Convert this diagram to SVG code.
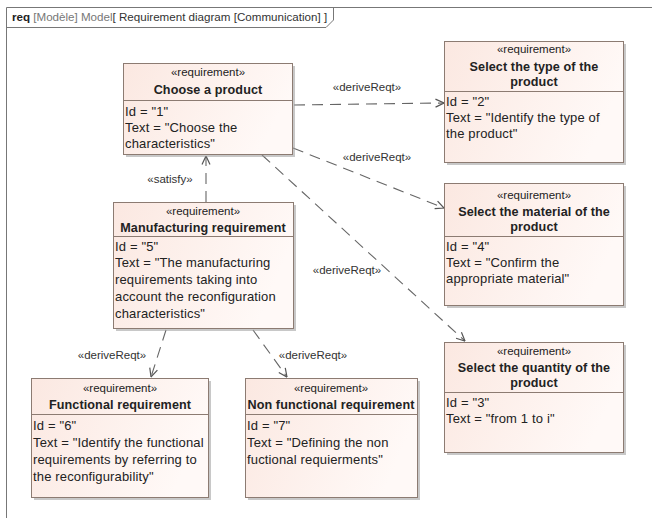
<svg xmlns="http://www.w3.org/2000/svg" width="652" height="518" viewBox="0 0 652 518">
<defs>
<linearGradient id="g" x1="0" y1="0" x2="1" y2="0.3">
<stop offset="0" stop-color="#fbe8e1"/>
<stop offset="1" stop-color="#fff9f7"/>
</linearGradient>
<marker id="oa" viewBox="0 0 10 10" refX="9.5" refY="5" markerWidth="10" markerHeight="10" markerUnits="userSpaceOnUse" orient="auto">
<path d="M1,1 L9.5,5 L1,9" fill="none" stroke="#555" stroke-width="1.2"/>
</marker>
</defs>
<style>
text{font-family:"Liberation Sans",Arial,sans-serif;fill:#222}
.st{font-size:11.5px;text-anchor:middle}
.nm{font-size:12.6px;font-weight:bold;text-anchor:middle;letter-spacing:0.1px}
.bd{font-size:13px;letter-spacing:0.15px}
.lb{font-size:11.5px;text-anchor:middle;fill:#333}
.box{fill:url(#g);stroke:#8c7b72;stroke-width:1}
.sh{fill:#9a9a9a;opacity:.55}
.dv{stroke:#8c7b72;stroke-width:1}
.cn{fill:none;stroke:#666;stroke-width:1.1;stroke-dasharray:11 7;marker-end:url(#oa)}
</style>
<rect width="652" height="518" fill="#fff"/>
<g id="frame">
<path d="M6.5,518 V7.5 H652" fill="none" stroke="#777" stroke-width="1"/>
<path d="M6.5,27.5 H326 L333.5,20 V7.5" fill="none" stroke="#777" stroke-width="1"/>
<text x="12" y="21" style="font-size:11.6px"><tspan font-weight="bold" fill="#222">req</tspan><tspan fill="#777"> [Modèle] Model</tspan><tspan fill="#333">[ Requirement diagram [Communication] ]</tspan></text>
</g>
<g id="connectors">
<line class="cn" x1="294" y1="105" x2="444" y2="103"/>
<line class="cn" x1="293" y1="148" x2="444" y2="208"/>
<line class="cn" x1="262" y1="155" x2="465" y2="341"/>
<line class="cn" x1="206" y1="202" x2="206" y2="156"/>
<line class="cn" x1="166" y1="330" x2="151" y2="377"/>
<line class="cn" x1="253" y1="330" x2="287" y2="377"/>
<text class="lb" x="367" y="91">«deriveReqt»</text>
<text class="lb" x="377" y="161">«deriveReqt»</text>
<text class="lb" x="347" y="274">«deriveReqt»</text>
<text class="lb" x="170" y="183">«satisfy»</text>
<text class="lb" x="112" y="359">«deriveReqt»</text>
<text class="lb" x="313" y="359">«deriveReqt»</text>
</g>
<g id="choose">
<rect class="sh" x="126" y="66" width="169" height="91"/>
<rect class="box" x="123.5" y="63.5" width="169" height="91"/>
<line class="dv" x1="123.5" y1="100.5" x2="292.5" y2="100.5"/>
<text class="st" x="208" y="76">«requirement»</text>
<text class="nm" x="208" y="94">Choose a product</text>
<text class="bd" x="125" y="116">Id = "1"</text>
<text class="bd" x="125" y="132">Text = "Choose the</text>
<text class="bd" x="125" y="148">characteristics"</text>
</g>
<g id="type">
<rect class="sh" x="447" y="44" width="179" height="121"/>
<rect class="box" x="444.5" y="41.5" width="179" height="121"/>
<line class="dv" x1="444.5" y1="91.5" x2="623.5" y2="91.5"/>
<text class="st" x="534" y="53">«requirement»</text>
<text class="nm" x="534" y="71">Select the type of the</text>
<text class="nm" x="534" y="86">product</text>
<text class="bd" x="446" y="106">Id = "2"</text>
<text class="bd" x="446" y="122">Text = "Identify the type of</text>
<text class="bd" x="446" y="138">the product"</text>
</g>
<g id="material">
<rect class="sh" x="447" y="186" width="179" height="122"/>
<rect class="box" x="444.5" y="183.5" width="179" height="122"/>
<line class="dv" x1="444.5" y1="236.5" x2="623.5" y2="236.5"/>
<text class="st" x="534" y="199">«requirement»</text>
<text class="nm" x="534" y="216">Select the material of the</text>
<text class="nm" x="534" y="231">product</text>
<text class="bd" x="446" y="251">Id = "4"</text>
<text class="bd" x="446" y="267">Text = "Confirm the</text>
<text class="bd" x="446" y="283">appropriate material"</text>
</g>
<g id="quantity">
<rect class="sh" x="447" y="345" width="179" height="110"/>
<rect class="box" x="444.5" y="342.5" width="179" height="110"/>
<line class="dv" x1="444.5" y1="392.5" x2="623.5" y2="392.5"/>
<text class="st" x="534" y="355">«requirement»</text>
<text class="nm" x="534" y="372">Select the quantity of the</text>
<text class="nm" x="534" y="387">product</text>
<text class="bd" x="446" y="407">Id = "3"</text>
<text class="bd" x="446" y="423">Text = "from 1 to i"</text>
</g>
<g id="manufacturing">
<rect class="sh" x="116" y="205" width="180" height="126"/>
<rect class="box" x="113.5" y="202.5" width="180" height="126"/>
<line class="dv" x1="113.5" y1="236.5" x2="293.5" y2="236.5"/>
<text class="st" x="203" y="215">«requirement»</text>
<text class="nm" x="203" y="232">Manufacturing requirement</text>
<text class="bd" x="115" y="251">Id = "5"</text>
<text class="bd" x="115" y="267">Text = "The manufacturing</text>
<text class="bd" x="115" y="284">requirements taking into</text>
<text class="bd" x="115" y="301">account the reconfiguration</text>
<text class="bd" x="115" y="318">characteristics"</text>
</g>
<g id="functional">
<rect class="sh" x="34" y="381" width="177" height="119"/>
<rect class="box" x="31.5" y="378.5" width="177" height="119"/>
<line class="dv" x1="31.5" y1="414.5" x2="208.5" y2="414.5"/>
<text class="st" x="120" y="392">«requirement»</text>
<text class="nm" x="120" y="409">Functional requirement</text>
<text class="bd" x="33" y="430">Id = "6"</text>
<text class="bd" x="33" y="447">Text = "Identify the functional</text>
<text class="bd" x="33" y="464">requirements by referring to</text>
<text class="bd" x="33" y="481">the reconfigurability"</text>
</g>
<g id="nonfunctional">
<rect class="sh" x="248" y="381" width="172" height="119"/>
<rect class="box" x="245.5" y="378.5" width="172" height="119"/>
<line class="dv" x1="245.5" y1="414.5" x2="417.5" y2="414.5"/>
<text class="st" x="331" y="392">«requirement»</text>
<text class="nm" x="331" y="409">Non functional requirement</text>
<text class="bd" x="247" y="430">Id = "7"</text>
<text class="bd" x="247" y="447">Text = "Defining the non</text>
<text class="bd" x="247" y="464">fuctional requierments"</text>
</g>
</svg>
